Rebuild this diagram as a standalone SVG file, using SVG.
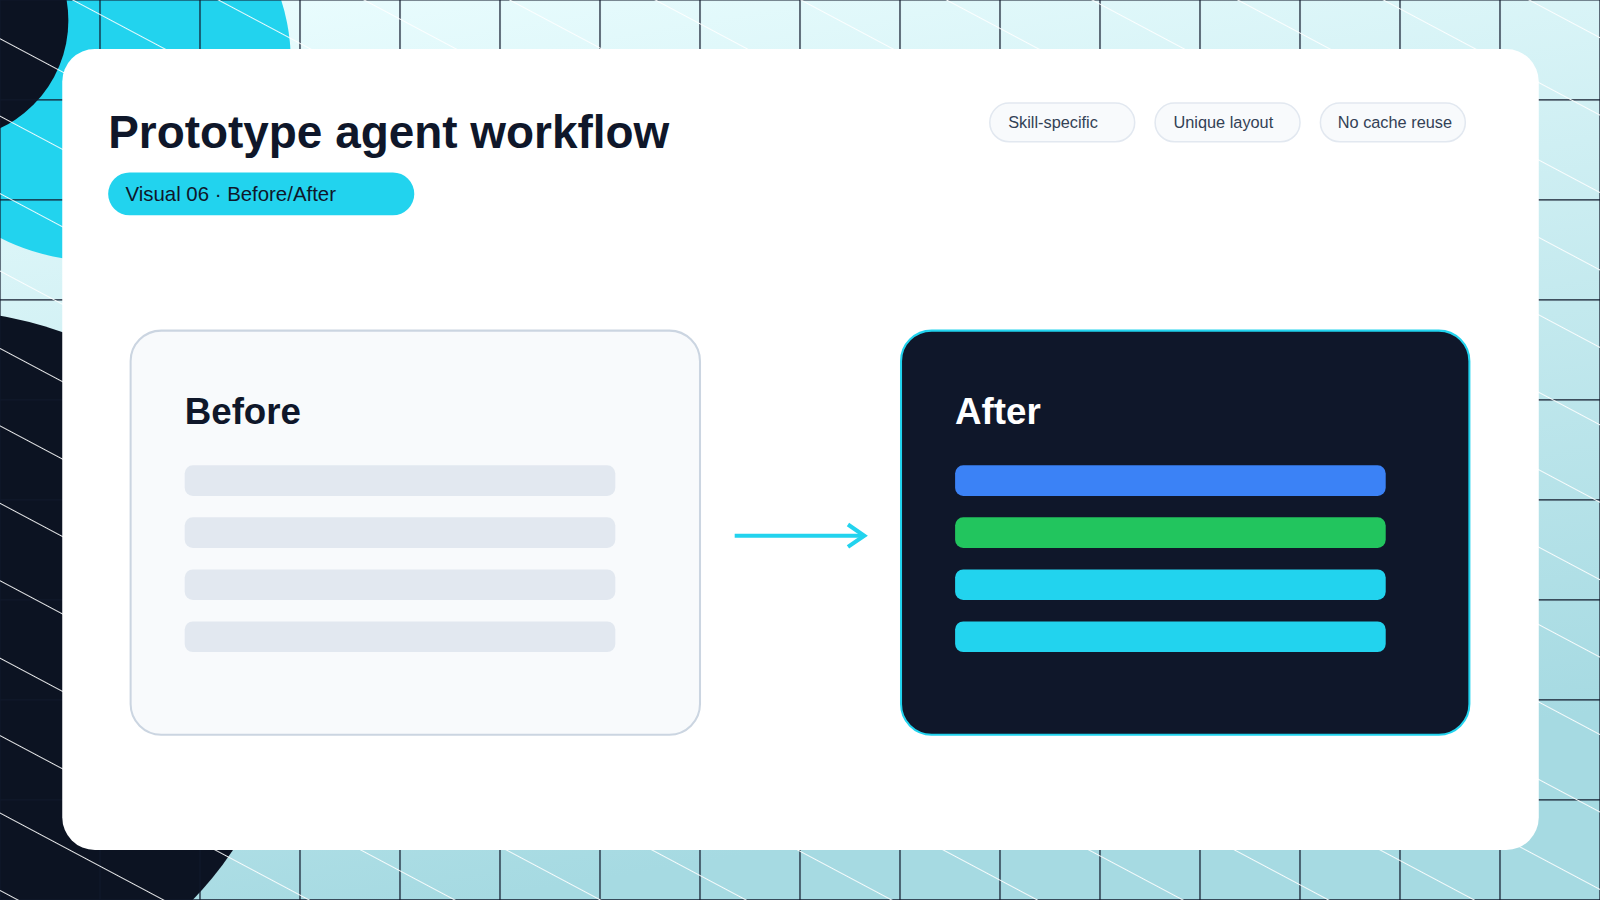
<svg xmlns="http://www.w3.org/2000/svg" width="1600" height="900" viewBox="0 0 1600 900">
<defs>
<linearGradient id="bg" x1="0" y1="0" x2="0.3" y2="1"><stop offset="0" stop-color="#ecfeff"/><stop offset="1" stop-color="#a6dae2"/></linearGradient>
<pattern id="grid" x="1" y="1" width="98" height="98" patternUnits="userSpaceOnUse"><path d="M97 0V98M0 97H98" fill="none" stroke="#0f172a" stroke-width="1.2"/></pattern>
<pattern id="diag" width="200" height="67" patternUnits="userSpaceOnUse" patternTransform="rotate(28)"><path d="M0 33.5H200" stroke="#fff" stroke-width="1.2" opacity="0.9"/></pattern>
<style>
.t{font-family:"Liberation Sans",Arial,sans-serif}
.tag rect{fill:#f8fafc;stroke:#e2e8f0;stroke-width:1.5}
.tag text{font-size:16px;fill:#334155}
</style>
</defs>
<g transform="scale(1.020408)">
<rect width="1568" height="882" fill="url(#bg)"/>
<circle cx="90" cy="60" r="195" fill="#22d3ee"/>
<circle cx="-50" cy="20" r="117" fill="#0c1322"/>
<circle cx="-55" cy="645" r="340" fill="#0c1322"/>
<rect width="1568" height="882" fill="url(#grid)"/>
<rect width="1568" height="882" fill="url(#diag)"/>
<rect x="61" y="48" width="1447" height="785" rx="32" fill="#fff"/>
<g id="header" class="t">
<text x="106" y="145" font-size="45" font-weight="bold" fill="#0f172a">Prototype agent workflow</text>
<rect x="106" y="169" width="300" height="42" rx="21" fill="#22d3ee"/>
<text x="123" y="197" font-size="20" fill="#0f172a">Visual 06 · Before/After</text>
</g>
<g id="tags" class="t tag">
<rect x="970" y="101" width="142" height="38" rx="19"/><text x="988" y="125">Skill-specific</text>
<rect x="1132" y="101" width="142" height="38" rx="19"/><text x="1150" y="125">Unique layout</text>
<rect x="1294" y="101" width="142" height="38" rx="19"/><text x="1311" y="125">No cache reuse</text>
</g>
<g id="before" class="t">
<rect x="128" y="324" width="558" height="396" rx="30" fill="#f8fafc" stroke="#cbd5e1" stroke-width="2"/>
<text x="181" y="416" font-size="36" font-weight="bold" fill="#0f172a">Before</text>
<rect x="181" y="456" width="422" height="30" rx="8" fill="#e2e8f0"/>
<rect x="181" y="507" width="422" height="30" rx="8" fill="#e2e8f0"/>
<rect x="181" y="558" width="422" height="30" rx="8" fill="#e2e8f0"/>
<rect x="181" y="609" width="422" height="30" rx="8" fill="#e2e8f0"/>
</g>
<g id="after" class="t">
<rect x="883" y="324" width="557" height="396" rx="30" fill="#0f172a" stroke="#22d3ee" stroke-width="2"/>
<text x="936" y="416" font-size="36" font-weight="bold" fill="#fff">After</text>
<rect x="936" y="456" width="422" height="30" rx="8" fill="#3b82f6"/>
<rect x="936" y="507" width="422" height="30" rx="8" fill="#22c55e"/>
<rect x="936" y="558" width="422" height="30" rx="8" fill="#22d3ee"/>
<rect x="936" y="609" width="422" height="30" rx="8" fill="#22d3ee"/>
</g>
<g id="connectors" fill="none" stroke="#22d3ee" stroke-width="4">
<path d="M720 525H846"/>
<path d="M831 514L847 525L831 536"/>
</g>
</g>
</svg>
